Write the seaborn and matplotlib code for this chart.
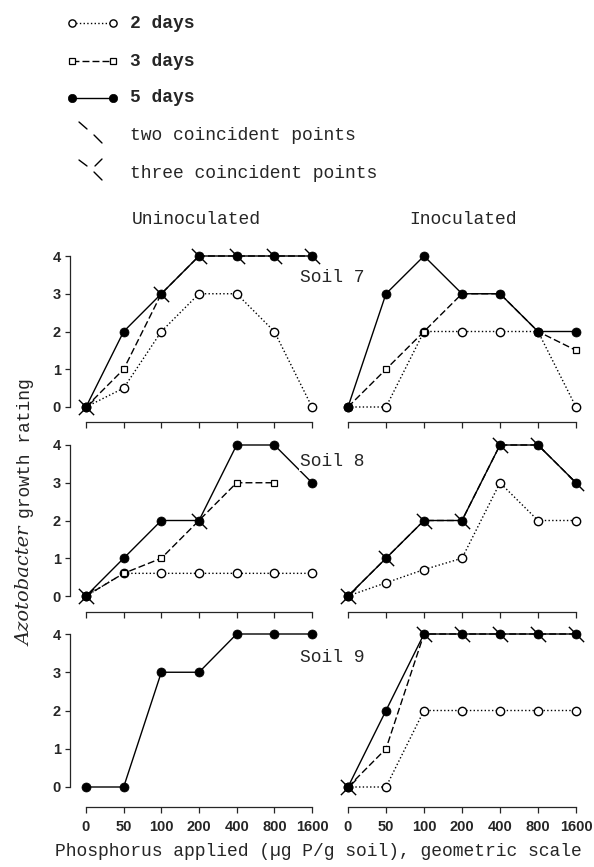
import numpy as np
import matplotlib
matplotlib.use("Agg")
import matplotlib.pyplot as plt
from matplotlib.path import Path
import seaborn as sns

# phosphorus levels, plotted at equal spacing (geometric scale)
p_levels = ["0", "50", "100", "200", "400", "800", "1600"]
p_pos = np.arange(len(p_levels))

# growth ratings
soil7_un_2d = [0, 0.5, 2, 3, 3, 2, 0]
soil7_un_3d = [0, 1, 3, 4, 4, 4, 4]
soil7_un_5d = [0, 2, 3, 4, 4, 4, 4]
soil7_in_2d = [0, 0, 2, 2, 2, 2, 0]
soil7_in_3d = [0, 1, 2, 3, 3, 2, 1.5]
soil7_in_5d = [0, 3, 4, 3, 3, 2, 2]

soil8_un_2d = [0, 0.6, 0.6, 0.6, 0.6, 0.6, 0.6]
soil8_un_3d = [0, 0.6, 1, 2, 3, 3, np.nan]
soil8_un_5d = [0, 1, 2, 2, 4, 4, 3]
soil8_in_2d = [0, 0.35, 0.7, 1, 3, 2, 2]
soil8_in_3d = [0, 1, 2, 2, 4, 4, 3]
soil8_in_5d = [0, 1, 2, 2, 4, 4, 3]

soil9_un_5d = [0, 0, 3, 3, 4, 4, 4]
soil9_in_2d = [0, 0, 2, 2, 2, 2, 2]
soil9_in_3d = [0, 1, 4, 4, 4, 4, 4]
soil9_in_5d = [0, 2, 4, 4, 4, 4, 4]

# which P levels have coincident points (index into p_levels)
soil7_un_two, soil7_un_three = [2, 3, 4, 5, 6], [0]
soil7_in_two, soil7_in_three = [], []
soil8_un_two, soil8_un_three = [3], [0]
soil8_in_two, soil8_in_three = [1, 2, 3, 4, 5, 6], [0]
soil9_un_two, soil9_un_three = [], []
soil9_in_two, soil9_in_three = [2, 3, 4, 5, 6], [0]

sns.set_style("ticks")
plt.rcParams["font.family"] = ["DejaVu Sans"]
MONO = "Liberation Mono"
TICKFONT = "Liberation Sans"

W, H = 594, 867
fig = plt.figure(figsize=(W / 100, H / 100), dpi=100)

two_mark = Path([(-1, 1), (1, -1)], [Path.MOVETO, Path.LINETO])
three_mark = Path([(-1, 1), (1, -1), (-1, -1), (1, 1)],
                  [Path.MOVETO, Path.LINETO, Path.MOVETO, Path.LINETO])

style_2d = dict(linestyle=":", marker="o", markersize=6, markerfacecolor="white",
                markeredgecolor="black", markeredgewidth=1.0)
style_3d = dict(linestyle=(0, (5, 2.2)), marker="s", markersize=5, markerfacecolor="white",
                markeredgecolor="black", markeredgewidth=0.9)
style_5d = dict(linestyle="-", marker="o", markersize=6.5, markerfacecolor="black",
                markeredgecolor="black", markeredgewidth=0.5)


def make_panel(x0, x6, y0, y4, spine_y, left_pad=16, right_pad=14, top_pad=14):
    left, right, top, bottom = x0 - left_pad, x6 + right_pad, y4 - top_pad, spine_y
    ax = fig.add_axes([left / W, 1 - bottom / H, (right - left) / W, (bottom - top) / H])
    ux = (x6 - x0) / 6
    uy = (y0 - y4) / 4
    ax.set_xlim(-left_pad / ux, 6 + right_pad / ux)
    ax.set_ylim(-(spine_y - y0) / uy, 4 + top_pad / uy)
    ax.patch.set_visible(False)
    return ax


def draw(ax, series, two, three, show_y, show_x):
    y5 = np.array(series[-1][1])
    for style, vals in series:
        sns.lineplot(x=p_pos, y=vals, ax=ax, color="black", linewidth=1.0,
                     errorbar=None, clip_on=False, zorder=3, legend=False, **style)
    if two:
        ax.plot(p_pos[two], y5[two], linestyle="none", marker=two_mark,
                markersize=11, markeredgewidth=1.0, color="black", clip_on=False, zorder=2)
    if three:
        ax.plot(p_pos[three], y5[three], linestyle="none", marker=three_mark,
                markersize=11, markeredgewidth=1.0, color="black", clip_on=False, zorder=2)
    ax.set_xlabel("")
    ax.set_ylabel("")
    sns.despine(ax=ax, left=not show_y)
    ax.spines["bottom"].set_bounds(0, 6)
    ax.spines["bottom"].set_linewidth(0.9)
    ax.set_xticks(p_pos)
    ax.set_xticklabels(p_levels if show_x else [])
    ax.tick_params(axis="x", direction="out", length=4.3, width=0.9, pad=5,
                   labelsize=10.5)
    if show_y:
        ax.spines["left"].set_bounds(0, 4)
        ax.spines["left"].set_linewidth(0.9)
        ax.set_yticks(range(5))
        ax.tick_params(axis="y", direction="out", length=3.6, width=0.9, pad=3,
                       labelsize=10.5)
    else:
        ax.set_yticks([])
    for lab in ax.get_xticklabels() + ax.get_yticklabels():
        lab.set_fontweight("bold")
        lab.set_family(TICKFONT)


rows = [(407, 256, 422), (596, 445, 612), (787, 634, 807)]
cols = [(86, 312), (348, 576)]

panels = [
    [([(style_2d, soil7_un_2d), (style_3d, soil7_un_3d), (style_5d, soil7_un_5d)], soil7_un_two, soil7_un_three),
     ([(style_2d, soil7_in_2d), (style_3d, soil7_in_3d), (style_5d, soil7_in_5d)], soil7_in_two, soil7_in_three)],
    [([(style_2d, soil8_un_2d), (style_3d, soil8_un_3d), (style_5d, soil8_un_5d)], soil8_un_two, soil8_un_three),
     ([(style_2d, soil8_in_2d), (style_3d, soil8_in_3d), (style_5d, soil8_in_5d)], soil8_in_two, soil8_in_three)],
    [([(style_5d, soil9_un_5d)], soil9_un_two, soil9_un_three),
     ([(style_2d, soil9_in_2d), (style_3d, soil9_in_3d), (style_5d, soil9_in_5d)], soil9_in_two, soil9_in_three)],
]

for r, (y0, y4, sp) in enumerate(rows):
    for c, (x0, x6) in enumerate(cols):
        ax = make_panel(x0, x6, y0, y4, sp)
        series, two, three = panels[r][c]
        draw(ax, series, two, three, show_y=(c == 0), show_x=(r == 2))

# overlay in pixel coordinates for legend and labels
ov = fig.add_axes([0, 0, 1, 1], zorder=5)
ov.set_xlim(0, W)
ov.set_ylim(H, 0)
ov.axis("off")
ov.patch.set_visible(False)

leg_rows = [23, 61, 98, 136, 173]
leg_styles = [dict(style_2d, markersize=5.2), dict(style_3d, markersize=4.3),
              dict(style_5d, markersize=6.0)]
leg_labels = ["2 days", "3 days", "5 days"]
for yy, st, lab in zip(leg_rows[:3], leg_styles, leg_labels):
    ov.plot([72, 113], [yy, yy], color="black", linewidth=1.0, **st)
    ov.text(130, yy, lab, family=MONO, fontsize=13, fontweight="bold", va="center")

# coincident point glyphs
ov.plot([79, 87], [122, 129], color="black", lw=1.0)
ov.plot([94, 102], [135, 143], color="black", lw=1.0)
ov.text(130, leg_rows[3], "two coincident points", family=MONO, fontsize=13, va="center")
ov.plot([79, 87], [160, 166], color="black", lw=1.0)
ov.plot([95, 102], [166, 159], color="black", lw=1.0)
ov.plot([94, 102], [172, 180], color="black", lw=1.0)
ov.text(130, leg_rows[4], "three coincident points", family=MONO, fontsize=13, va="center")

ov.text(196, 220, "Uninoculated", family=MONO, fontsize=13, ha="center", va="center")
ov.text(463, 220, "Inoculated", family=MONO, fontsize=13, ha="center", va="center")

for yy, lab in zip([277, 462, 657], ["Soil 7", "Soil 8", "Soil 9"]):
    ov.text(300, yy, lab, family=MONO, fontsize=13, ha="left", va="center",
            bbox=dict(facecolor="white", edgecolor="none", pad=0.5))

ov.text(25, 526, "Azotobacter", family="DejaVu Serif", style="italic", fontsize=14,
        rotation=90, ha="center", va="top")
ov.text(25, 518, "growth rating", family=MONO, fontsize=13, rotation=90,
        ha="center", va="bottom")

ov.text(55, 852, "Phosphorus applied (\u00b5g P/g soil), geometric scale", family=MONO,
        fontsize=13, ha="left", va="center")

fig.savefig("out.png", dpi=100)
